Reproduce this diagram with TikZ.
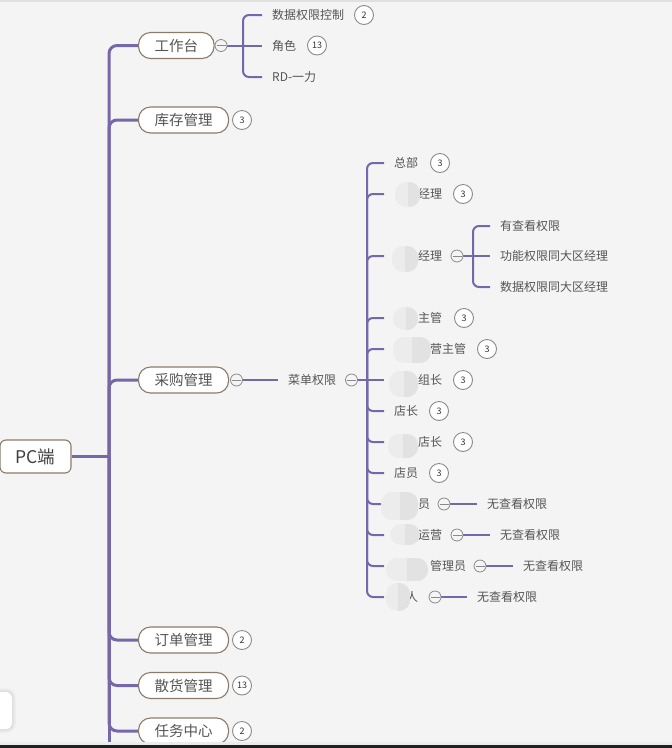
\documentclass[tikz,border=0pt]{standalone}
\usepackage{fontspec}
\setmainfont{Noto Sans CJK SC}
\usetikzlibrary{backgrounds}
\definecolor{bgc}{HTML}{F4F4F4}
\definecolor{pur}{RGB}{117,104,168}
\definecolor{nb}{HTML}{8C7B6B}
\definecolor{txt}{HTML}{555555}
\definecolor{cb}{HTML}{8A8A8A}
\definecolor{blobA}{HTML}{ECECEC}
\definecolor{blobB}{HTML}{E2E2E2}
\newcommand\hid[1]{\hspace*{#1pt}}
\newcommand\myblob[4]{%
  \begin{scope}
    \clip[rounded corners=11pt] (#1,#2) rectangle (#3,#4);
    \fill[blobA] (#1,#2) rectangle (#3,#4);
    \fill[blobB] ({(#1+#3)/2},#2) rectangle (#3,#4);
  \end{scope}}
\begin{document}
\begin{tikzpicture}[x=1pt,y=-1pt,
  mainline/.style={draw=pur, line width=3pt},
  subline/.style={draw=pur, line width=2pt},
  rootnode/.style={draw=nb, line width=1.1pt, fill=white, rounded corners=6pt,
    minimum width=71pt, minimum height=33pt, inner sep=0pt,
    font=\fontsize{17.5}{20}\selectfont, text=black!75},
  mainnode/.style={draw=nb, line width=1.1pt, fill=white, rounded corners=12pt,
    minimum height=26pt, inner xsep=16pt, inner ysep=0pt, anchor=west,
    font=\fontsize{14.5}{16}\selectfont, text=txt},
  leaf/.style={anchor=west, inner xsep=10pt, inner ysep=1pt,
    font=\fontsize{12}{14}\selectfont, text=txt},
  badge/.style={circle, draw=cb, line width=0.9pt, fill=white, minimum size=19pt,
    inner sep=0pt, font=\fontsize{9}{10}\selectfont, text=black!80},
  fold/.style={circle, draw=cb, line width=0.8pt, fill=white!96!black,
    minimum size=12pt, inner sep=0pt,
    path picture={\draw[cb, line width=0.8pt]
      ([xshift=-4.5pt]path picture bounding box.center) --
      ([xshift=4.5pt]path picture bounding box.center);}}
]
\useasboundingbox (0,0) rectangle (672,748);

% ---------- nodes ----------
\node[rootnode] (root) at (35.5,456.5) {PC端};
\node[mainnode] (gzt) at (138,45.5) {工作台};
\node[mainnode] (kc) at (138,120) {库存管理};
\node[mainnode] (cg) at (138,380) {采购管理};
\node[mainnode] (dd) at (138,640) {订单管理};
\node[mainnode] (sh) at (138,685.5) {散货管理};
\node[mainnode] (rw) at (138,731) {任务中心};

\coordinate (J) at (109,456.5);
\coordinate (Jb) at (109,748);

\node[fold] (f1) at (221,45.5) {};
\node[fold] (f2) at (236.5,380) {};

\node[badge] (bkc) at (242,120) {3};
\node[badge] (bdd) at (242,640) {2};
\node[badge] (bsh) at (242,685.5) {13};
\node[badge] (brw) at (242,731) {2};

% 工作台 children
\coordinate (k1) at (243,45.5);
\node[leaf] (w1) at (262,15) {数据权限控制};
\node[leaf] (w2) at (262,45.5) {角色};
\node[leaf] (w3) at (262,77) {RD-一力};
\node[badge] (bw1) at (364,15) {2};
\node[badge] (bw2) at (317,45.5) {13};

% 采购管理 children
\node[leaf] (menu) at (278,380) {菜单权限};
\node[fold] (f3) at (351.5,380) {};
\coordinate (k2) at (367,380);

\node[leaf] (r1) at (384,163) {总部};
\node[leaf] (r2) at (384,194) {\hid{24}经理};
\node[leaf] (r3) at (384,256) {\hid{24}经理};
\node[leaf] (r4) at (384,318) {\hid{24}主管};
\node[leaf] (r5) at (384,349) {\hid{36}营主管};
\node[leaf] (r6) at (384,380) {\hid{24}组长};
\node[leaf] (r7) at (384,411) {店长};
\node[leaf] (r8) at (384,442) {\hid{24}店长};
\node[leaf] (r9) at (384,473) {店员};
\node[leaf] (r10) at (384,504) {\hid{24}员};
\node[leaf] (r11) at (384,535) {\hid{24}运营};
\node[leaf] (r12) at (384,566) {\hid{36}管理员};
\node[leaf] (r13) at (384,597) {\hid{12}人};

\node[badge] (br1) at (440,163) {3};
\node[badge] (br2) at (463,194) {3};
\node[badge] (br4) at (464,318) {3};
\node[badge] (br5) at (487,349) {3};
\node[badge] (br6) at (463,380) {3};
\node[badge] (br7) at (439,411) {3};
\node[badge] (br8) at (463,442) {3};
\node[badge] (br9) at (439,473) {3};

% row r3 children
\node[fold] (f4) at (457,256) {};
\coordinate (k3) at (473,256);
\node[leaf] (s1) at (490,226) {有查看权限};
\node[leaf] (s2) at (490,256) {功能权限同大区经理};
\node[leaf] (s3) at (490,287) {数据权限同大区经理};

% rows with 无查看权限
\node[fold] (f5) at (444,504) {};
\node[leaf] (n1) at (477,504) {无查看权限};
\node[fold] (f6) at (457,535) {};
\node[leaf] (n2) at (490,535) {无查看权限};
\node[fold] (f7) at (480,566) {};
\node[leaf] (n3) at (513,566) {无查看权限};
\node[fold] (f8) at (435,597) {};
\node[leaf] (n4) at (467,597) {无查看权限};

% blurred parts
\myblob{395}{182}{420}{207}
\myblob{392}{246}{418}{272}
\myblob{393}{307}{418}{330}
\myblob{393}{337}{431}{363}
\myblob{389}{371}{418}{397}
\myblob{388}{434}{418}{458}
\myblob{381}{492}{418}{520}
\myblob{390}{524}{420}{545}
\myblob{386}{558}{428}{581}
\myblob{386}{583}{410}{611}

% ---------- background & connectors ----------
\begin{scope}[on background layer]
  \fill[bgc] (0,0) rectangle (672,748);
  \fill[black!12] (0,0) rectangle (672,1.5);
  % bottom-left card
  \fill[black, opacity=0.04, rounded corners=9pt] (-10,688.5) rectangle (15.5,732.5);
  \fill[black, opacity=0.05, rounded corners=7pt] (-10,690.5) rectangle (13.5,730.5);
  \fill[white, rounded corners=6pt] (-10,692) rectangle (12,729);

  \draw[mainline] (root.east) -- (J);
  \draw[mainline] (J) -- (Jb);
  \foreach \m in {gzt,kc,cg,dd,sh,rw}
    \draw[mainline, rounded corners=8pt] (J) |- (\m.west);

  \draw[subline] (f1.east) -- (w2.west);
  \draw[subline, rounded corners=6pt] (k1) |- (w1.west);
  \draw[subline, rounded corners=6pt] (k1) |- (w3.west);

  \draw[subline] (f2.east) -- (menu.west);
  \draw[subline] (f3.east) -- (r6.west);
  \foreach \r in {r1,r2,r3,r4,r5,r7,r8,r9,r10,r11,r12,r13}
    \draw[subline, rounded corners=6pt] (k2) |- (\r.west);

  \draw[subline] (f4.east) -- (s2.west);
  \draw[subline, rounded corners=6pt] (k3) |- (s1.west);
  \draw[subline, rounded corners=6pt] (k3) |- (s3.west);

  \draw[subline] (f5.east) -- (n1.west);
  \draw[subline] (f6.east) -- (n2.west);
  \draw[subline] (f7.east) -- (n3.west);
  \draw[subline] (f8.east) -- (n4.west);
\end{scope}

% bottom bar
\fill[black!8] (0,742) rectangle (672,744.5);
\fill[black!88] (0,744.5) rectangle (672,748);
\end{tikzpicture}
\end{document}
